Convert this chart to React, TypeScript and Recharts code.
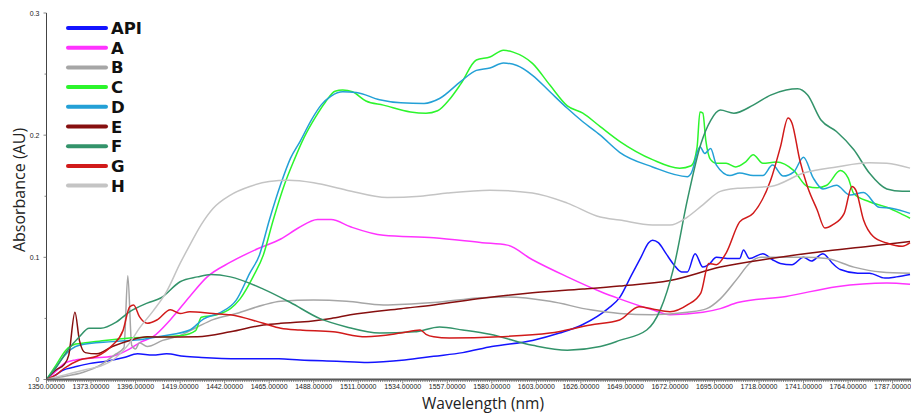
import React from 'react';
import { LineChart, Line, XAxis, YAxis } from 'recharts';

// wavelength (nm), absorbance (AU) pairs
const API: [number, number][] = [
  [1350, 0], [1353, 0.002], [1359, 0.008], [1364, 0.01], [1372, 0.013], [1381, 0.015], [1390, 0.018],
  [1397, 0.021], [1405, 0.02], [1412, 0.021], [1421, 0.019], [1430, 0.018], [1450, 0.017], [1470, 0.017],
  [1481, 0.016], [1500, 0.015], [1516, 0.014], [1535, 0.016], [1550, 0.019], [1565, 0.022], [1580, 0.027],
  [1601, 0.032], [1615, 0.038], [1627, 0.045], [1640, 0.058], [1646, 0.067], [1652, 0.085], [1657, 0.1],
  [1661, 0.112], [1663, 0.114], [1666, 0.112], [1670, 0.103], [1674, 0.094], [1678, 0.088], [1681, 0.088],
  [1685, 0.103], [1689, 0.092], [1692, 0.094], [1696, 0.1], [1703, 0.099], [1708, 0.099], [1710, 0.106],
  [1713, 0.099], [1720, 0.103], [1725, 0.098], [1729, 0.095], [1735, 0.094], [1741, 0.1], [1745, 0.097],
  [1751, 0.103], [1756, 0.095], [1760, 0.09], [1769, 0.087], [1775, 0.087], [1783, 0.083], [1789, 0.084],
  [1796, 0.086],
];

const A: [number, number][] = [
  [1350, 0], [1355, 0.007], [1359, 0.013], [1365, 0.016], [1374, 0.0175], [1384, 0.019], [1393, 0.025],
  [1398, 0.03], [1405, 0.035], [1414, 0.049], [1424, 0.068], [1433, 0.084], [1445, 0.096], [1459, 0.107],
  [1471, 0.115], [1480, 0.124], [1490, 0.131], [1497, 0.131], [1507, 0.125], [1524, 0.118], [1550, 0.116],
  [1575, 0.112], [1588, 0.11], [1601, 0.098], [1619, 0.084], [1636, 0.072], [1646, 0.066], [1663, 0.057],
  [1672, 0.053], [1689, 0.055], [1698, 0.058], [1707, 0.063], [1732, 0.068], [1758, 0.076], [1784, 0.079],
  [1796, 0.078],
];

const B: [number, number][] = [
  [1350, 0], [1357, 0.002], [1369, 0.006], [1378, 0.012], [1385, 0.02], [1390, 0.026], [1392, 0.085],
  [1394, 0.028], [1396, 0.025], [1398, 0.03], [1402, 0.027], [1410, 0.032], [1419, 0.036], [1428, 0.043],
  [1436, 0.049], [1448, 0.054], [1462, 0.061], [1471, 0.064], [1488, 0.065], [1505, 0.064], [1524, 0.061],
  [1550, 0.063], [1575, 0.067], [1588, 0.0675], [1610, 0.064], [1631, 0.057], [1646, 0.054], [1663, 0.053],
  [1681, 0.055], [1691, 0.058], [1698, 0.066], [1707, 0.083], [1713, 0.095], [1719, 0.1], [1741, 0.1],
  [1753, 0.099], [1767, 0.092], [1781, 0.088], [1796, 0.087],
];

const C: [number, number][] = [
  [1350, 0], [1355, 0.012], [1360, 0.024], [1365, 0.029], [1370, 0.03], [1380, 0.032], [1393, 0.034],
  [1410, 0.035], [1420, 0.036], [1427, 0.04], [1430, 0.051], [1438, 0.053], [1445, 0.058], [1450, 0.066],
  [1457, 0.085], [1462, 0.102], [1467, 0.13], [1473, 0.16], [1478, 0.18], [1483, 0.198], [1489, 0.215],
  [1494, 0.227], [1499, 0.236], [1503, 0.237], [1508, 0.2355], [1515, 0.228], [1524, 0.2246], [1538, 0.219],
  [1546, 0.218], [1552, 0.22], [1558, 0.229], [1564, 0.242], [1572, 0.2615], [1579, 0.264], [1586, 0.2696],
  [1591, 0.268], [1601, 0.2588], [1610, 0.241], [1619, 0.224], [1627, 0.218], [1636, 0.207], [1646, 0.195],
  [1663, 0.18], [1677, 0.173], [1683, 0.175], [1686, 0.19], [1687.5, 0.219], [1689, 0.218], [1690.5, 0.196],
  [1693, 0.18], [1696, 0.177], [1701, 0.177], [1706, 0.174], [1711, 0.178], [1715, 0.184], [1720, 0.177],
  [1727, 0.178], [1736, 0.171], [1743, 0.158], [1748, 0.157], [1753, 0.159], [1760, 0.171], [1764, 0.165],
  [1767, 0.152], [1775, 0.1455], [1784, 0.141], [1791, 0.136], [1796, 0.132],
];

const D: [number, number][] = [
  [1350, 0], [1355, 0.01], [1359, 0.019], [1367, 0.028], [1384, 0.031], [1400, 0.033], [1410, 0.0356],
  [1424, 0.0405], [1431, 0.0495], [1440, 0.055], [1448, 0.065], [1455, 0.087], [1460, 0.102], [1465, 0.13],
  [1471, 0.16], [1476, 0.181], [1481, 0.195], [1487, 0.213], [1492, 0.225], [1497, 0.232], [1503, 0.2355],
  [1510, 0.235], [1522, 0.229], [1533, 0.2265], [1545, 0.226], [1553, 0.23], [1564, 0.244], [1572, 0.253],
  [1579, 0.255], [1586, 0.259], [1593, 0.257], [1601, 0.249], [1610, 0.2355], [1619, 0.222], [1627, 0.211],
  [1636, 0.2], [1646, 0.186], [1663, 0.174], [1681, 0.166], [1683, 0.169], [1687.5, 0.1905], [1690, 0.185],
  [1693, 0.189], [1696, 0.1755], [1703, 0.167], [1708, 0.169], [1715, 0.167], [1720, 0.167], [1725, 0.1755],
  [1730.5, 0.1665], [1736, 0.17], [1741, 0.182], [1746, 0.165], [1751, 0.156], [1758, 0.159], [1765, 0.151],
  [1772, 0.153], [1780, 0.141], [1787, 0.14], [1796, 0.136],
];

const E: [number, number][] = [
  [1350, 0], [1355, 0.008], [1359, 0.012], [1361.5, 0.02], [1364.7, 0.055], [1367, 0.032], [1370, 0.022],
  [1376, 0.021], [1384, 0.027], [1393, 0.032], [1402, 0.035], [1410, 0.0347], [1428, 0.035], [1445, 0.039],
  [1462, 0.0446], [1471, 0.046], [1481, 0.047], [1497, 0.05], [1507, 0.053], [1533, 0.058], [1550, 0.061],
  [1575, 0.0665], [1601, 0.071], [1627, 0.074], [1646, 0.0765], [1672, 0.081], [1698, 0.092], [1724, 0.099],
  [1750, 0.1046], [1775, 0.109], [1796, 0.113],
];

const F: [number, number][] = [
  [1350, 0], [1355, 0.01], [1361, 0.024], [1367, 0.035], [1372, 0.042], [1378, 0.042], [1386, 0.047],
  [1393, 0.0555], [1402, 0.0625], [1409, 0.0667], [1419, 0.08], [1428, 0.084], [1435, 0.086], [1445, 0.084],
  [1462, 0.074], [1476, 0.063], [1491, 0.05], [1505, 0.043], [1522, 0.038], [1540, 0.039], [1553, 0.043],
  [1565, 0.0405], [1579, 0.037], [1601, 0.028], [1619, 0.024], [1636, 0.027], [1646, 0.032], [1660, 0.0405],
  [1667, 0.057], [1674, 0.092], [1681, 0.147], [1688, 0.193], [1693, 0.212], [1698, 0.2205], [1705, 0.218],
  [1715, 0.2246], [1724, 0.2328], [1732, 0.237], [1738, 0.238], [1743, 0.233], [1750, 0.2124], [1758, 0.203],
  [1767, 0.188], [1775, 0.169], [1784, 0.156], [1792, 0.154], [1796, 0.154],
];

const G: [number, number][] = [
  [1350, 0], [1355, 0.004], [1359, 0.009], [1367, 0.016], [1376, 0.019], [1384, 0.028], [1389.5, 0.04],
  [1393, 0.0596], [1395, 0.061], [1398, 0.0514], [1402, 0.046], [1407, 0.0487], [1414, 0.057], [1419, 0.054],
  [1424, 0.0555], [1436, 0.054], [1445, 0.053], [1462, 0.046], [1471, 0.042], [1481, 0.0405], [1498, 0.039],
  [1515, 0.035], [1533, 0.038], [1543, 0.0405], [1546, 0.037], [1550, 0.035], [1558, 0.034], [1584, 0.035],
  [1610, 0.038], [1631, 0.0446], [1646, 0.0487], [1656, 0.0596], [1663, 0.0577], [1672, 0.0555], [1681, 0.061],
  [1688, 0.071], [1692, 0.095], [1696, 0.094], [1701, 0.1035], [1708, 0.129], [1715, 0.136], [1724, 0.163],
  [1729, 0.19], [1733, 0.214], [1735, 0.21], [1739, 0.18], [1743, 0.158], [1748, 0.139], [1752, 0.124],
  [1756, 0.1265], [1762, 0.136], [1766, 0.158], [1768, 0.155], [1772, 0.1305], [1777, 0.117], [1784, 0.1117],
  [1792, 0.109], [1796, 0.112],
];

const H: [number, number][] = [
  [1350, 0], [1360, 0.004], [1370, 0.008], [1378, 0.011], [1386, 0.018], [1393, 0.03], [1398, 0.042],
  [1405, 0.056], [1412, 0.072], [1419, 0.095], [1424, 0.11], [1430, 0.127], [1436, 0.14], [1445, 0.151],
  [1455, 0.158], [1465, 0.162], [1475, 0.163], [1488, 0.161], [1505, 0.155], [1526, 0.149], [1543, 0.15],
  [1557, 0.1526], [1579, 0.155], [1601, 0.1526], [1619, 0.1444], [1636, 0.133], [1646, 0.1305], [1663, 0.1264],
  [1672, 0.1264], [1681, 0.133], [1689, 0.143], [1698, 0.154], [1707, 0.1565], [1724, 0.158], [1741, 0.169],
  [1758, 0.174], [1775, 0.1774], [1784, 0.177], [1796, 0.173],
];

const X_TICKS = [1350, 1373, 1396, 1419, 1442, 1465, 1488, 1511, 1534, 1557, 1580, 1603, 1626, 1649, 1672, 1695, 1718, 1741, 1764, 1787];
const Y_TICKS = [0, 0.1, 0.2, 0.3];
const Y_MINOR = [0.05, 0.15, 0.25];

const SERIES = [
  { name: 'API', data: API, color: '#1414ff' },
  { name: 'A', data: A, color: '#ff33ff' },
  { name: 'B', data: B, color: '#a6a6a6' },
  { name: 'C', data: C, color: '#2cf52c' },
  { name: 'D', data: D, color: '#23a0d6' },
  { name: 'E', data: E, color: '#860f0f' },
  { name: 'F', data: F, color: '#33936a' },
  { name: 'G', data: G, color: '#d11a1a' },
  { name: 'H', data: H, color: '#c4c4c4' },
];

const X_MAX = 1796.5;
const minorStep = 23 / 20;
const xTickAll: number[] = [];
for (let i = 0; 1350 + i * minorStep <= X_MAX; i++) xTickAll.push(Math.round((1350 + i * minorStep) * 100) / 100);

const tickFont = '"Liberation Sans", Arial, sans-serif';

const XTick = (props: any) => {
  const { x, y, payload } = props;
  const major = X_TICKS.includes(payload.value);
  return (
    <g>
      <line x1={x} y1={y} x2={x} y2={y + (major ? 4 : 2.5)} stroke="#666" strokeWidth={0.8} />
      {major && (
        <text x={x} y={y + 9.5} textAnchor="middle" fontSize={7} fontFamily={tickFont} fill="#222">
          {payload.value.toFixed(5)}
        </text>
      )}
    </g>
  );
};

const YTick = (props: any) => {
  const { x, y, payload } = props;
  const major = Y_TICKS.some(t => Math.abs(t - payload.value) < 1e-6);
  return (
    <g>
      <line x1={x - (major ? 3 : 2)} y1={y} x2={x} y2={y} stroke="#666" strokeWidth={0.8} />
      {major && (
        <text x={x - 7} y={y + 2.5} textAnchor="end" fontSize={7} fontFamily={tickFont} fill="#222">
          {payload.value === 0 ? '0' : payload.value.toFixed(1)}
        </text>
      )}
    </g>
  );
};

export default function App() {
  return (
    <div style={{ position: 'absolute', left: 0, top: 0, width: 911, height: 414, background: '#fff' }}>
      <LineChart width={911} height={414} margin={{ top: 13, right: 0, bottom: 0, left: 0 }}>
        <XAxis
          type="number"
          dataKey="wl"
          domain={[1350, X_MAX]}
          ticks={xTickAll}
          interval={0}
          allowDataOverflow
          height={34.5}
          tickSize={0}
          tickMargin={0}
          tickLine={false}
          tick={<XTick />}
          axisLine={{ stroke: '#555', strokeWidth: 2 }}
        />
        <YAxis
          type="number"
          domain={[0, 0.3]}
          ticks={[...Y_TICKS, ...Y_MINOR].sort((a, b) => a - b)}
          interval={0}
          width={46.5}
          tickSize={0}
          tickMargin={0}
          tickLine={false}
          tick={<YTick />}
          axisLine={{ stroke: '#444', strokeWidth: 1 }}
        />
        {SERIES.map(s => (
          <Line
            key={s.name}
            data={s.data.map(([wl, v]) => ({ wl, v }))}
            dataKey="v"
            name={s.name}
            type="monotone"
            stroke={s.color}
            strokeWidth={1.5}
            dot={false}
            activeDot={false}
            isAnimationActive={false}
          />
        ))}
      </LineChart>
      <svg width={911} height={414} style={{ position: 'absolute', left: 0, top: 0, pointerEvents: 'none' }}>
        {SERIES.map((s, i) => {
          const y = 28 + i * 19.7;
          return (
            <g key={s.name}>
              <line x1={68} y1={y} x2={106} y2={y} stroke={s.color} strokeWidth={4} strokeLinecap="round" />
              <text x={111} y={y + 6} fontSize={16.5} fontWeight="bold" fontFamily='"DejaVu Sans", sans-serif' fill="#111">
                {s.name}
              </text>
            </g>
          );
        })}
        <text
          x={19}
          y={190}
          transform="rotate(-90 19 190)"
          textAnchor="middle"
          fontSize={16}
          fontFamily='"Open Sans", sans-serif'
          fill="#222"
          dominantBaseline="central"
        >
          Absorbance (AU)
        </text>
        <text x={483} y={409} textAnchor="middle" fontSize={15.5} fontFamily='"Open Sans", sans-serif' fill="#222">
          Wavelength (nm)
        </text>
      </svg>
    </div>
  );
}
